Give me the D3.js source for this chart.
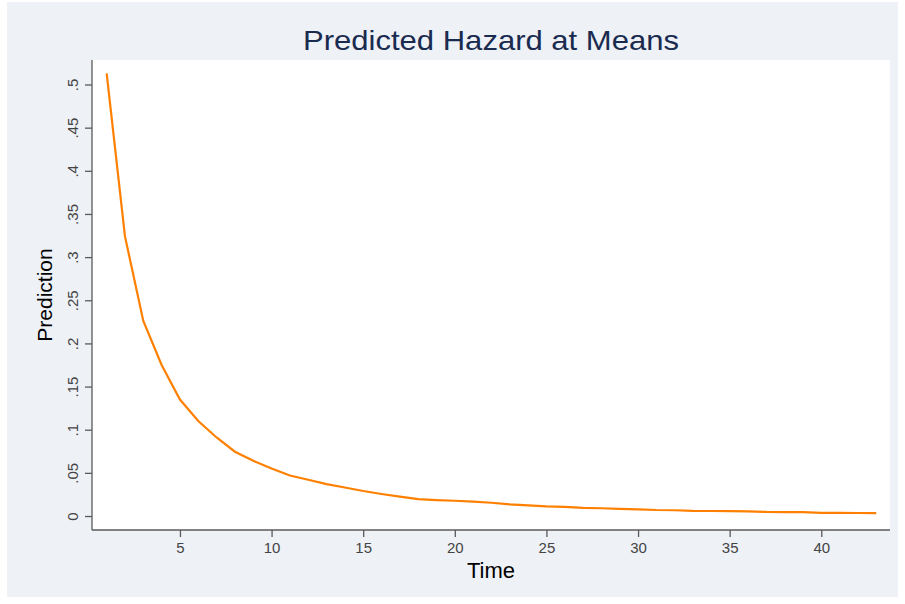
<!DOCTYPE html>
<html>
<head>
<meta charset="utf-8">
<script src="https://cdn.jsdelivr.net/npm/d3@7"></script>
<style>
body{margin:0;background:#fff;}
svg{display:block;font-family:"Liberation Sans", Arial, sans-serif;}
</style>
</head>
<body>
<svg></svg>
<script>
var times = [];
for (var t = 1; t <= 43; t++) times.push(t);
var hazard = [0.513, 0.324, 0.226, 0.175, 0.135, 0.110, 0.091, 0.0745, 0.064, 0.055,
	0.047, 0.042, 0.037, 0.033, 0.029, 0.0255, 0.0224, 0.0195, 0.0185, 0.0177,
	0.0166, 0.0154, 0.0136, 0.0124, 0.0112, 0.0107, 0.0095, 0.0090, 0.0082, 0.0078,
	0.0070, 0.0067, 0.0060, 0.0058, 0.0056, 0.0054, 0.0047, 0.0046, 0.0045, 0.0037,
	0.0036, 0.0035, 0.0034];
var xTicks = [5, 10, 15, 20, 25, 30, 35, 40];
var yTicks = [0, 0.05, 0.1, 0.15, 0.2, 0.25, 0.3, 0.35, 0.4, 0.45, 0.5];

var width = 905, height = 604;
var plot = {left: 92, right: 890, top: 60, bottom: 530};

var svg = d3.select("svg").attr("width", width).attr("height", height);

// outer panel
svg.append("rect").attr("x", 7).attr("y", 2).attr("width", 891).attr("height", 595)
	.style("fill", "#eef1f6");
svg.append("rect").attr("x", plot.left).attr("y", plot.top)
	.attr("width", plot.right - plot.left).attr("height", plot.bottom - plot.top)
	.style("fill", "#fff");

var x = d3.scaleLinear().domain([0.2, 43.75]).range([plot.left, plot.right]);
var y = d3.scaleLinear().domain([-0.0162, 0.5284]).range([plot.bottom, plot.top]);

function fmt(v){
	if (v === 0) return "0";
	return d3.format(".2~f")(v).replace(/^0/, "");
}

// x axis
var xa = svg.append("g").attr("transform", "translate(0," + plot.bottom + ")")
	.call(d3.axisBottom(x).tickValues(xTicks).tickSize(7).tickPadding(5).tickSizeOuter(0));
xa.select(".domain").attr("d", "M" + plot.left + ",0H" + plot.right);
// y axis
var ya = svg.append("g").attr("transform", "translate(" + plot.left + ",0)")
	.call(d3.axisLeft(y).tickValues(yTicks).tickFormat(fmt).tickSize(7).tickSizeOuter(0));
ya.select(".domain").attr("d", "M0," + plot.top + "V" + plot.bottom);

svg.selectAll(".domain, .tick line").style("stroke", "#5a5a5a").style("stroke-width", 1.3);
xa.selectAll("text").style("font-size", "15px").style("fill", "#444").style("font-family", "inherit");
ya.selectAll("text").style("font-size", "15px").style("fill", "#444").style("font-family", "inherit")
	.attr("text-anchor", "middle").attr("x", null).attr("dy", null)
	.attr("transform", "translate(-19,0) rotate(-90) translate(0,5)");

// line
var line = d3.line().x(function(d, i){return x(times[i]);}).y(function(d){return y(d);});
svg.append("path").datum(hazard).attr("d", line)
	.style("fill", "none").style("stroke", "#ff8000").style("stroke-width", 2.2);

// titles
svg.append("text").attr("x", (plot.left + plot.right) / 2).attr("y", 50)
	.attr("text-anchor", "middle").style("font-size", "28px").style("fill", "#1a2b50")
	.attr("textLength", 376).attr("lengthAdjust", "spacingAndGlyphs")
	.text("Predicted Hazard at Means");
svg.append("text").attr("x", (plot.left + plot.right) / 2).attr("y", 578)
	.attr("text-anchor", "middle").style("font-size", "22px").style("fill", "#000")
	.text("Time");
svg.append("text").attr("transform", "translate(52," + (plot.top + plot.bottom) / 2 + ") rotate(-90)")
	.attr("text-anchor", "middle").style("font-size", "21px").style("fill", "#000")
	.text("Prediction");
</script>
</body>
</html>
